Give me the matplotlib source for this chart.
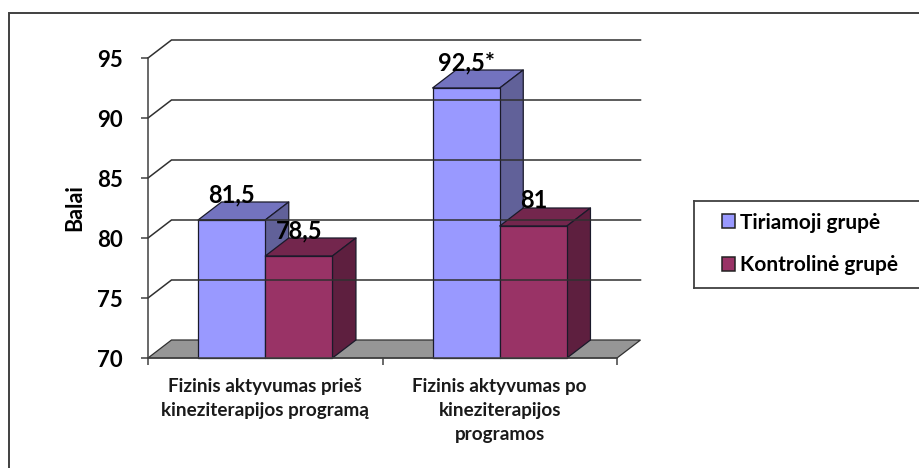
"""Fizinis aktyvumas - 3D stulpelinė diagrama (Excel stilius)"""
import matplotlib
matplotlib.use("Agg")
import matplotlib.pyplot as plt
from matplotlib.lines import Line2D
from matplotlib.patches import Patch, Polygon, Rectangle

plt.rcParams.update({
    "font.family": ["Lato", "DejaVu Sans"],
    "font.weight": "bold",
    "axes.labelweight": "bold",
})

# ── duomenys ─────────────────────────────────────────────
categories = ["Fizinis aktyvumas prieš\nkineziterapijos programą",
              "Fizinis aktyvumas po\nkineziterapijos\nprogramos"]
series_names = ["Tiriamoji grupė", "Kontrolinė grupė"]
tiriamoji = [81.5, 92.5]
kontroline = [78.5, 81]
labels_tiriamoji = ["81,5", "92,5*"]
labels_kontroline = ["78,5", "81"]
y_ticks = [70, 75, 80, 85, 90, 95]

# ── spalvos: priekis, viršus, šonas ──────────────────────
COL_A = ("#9999FF", "#7373BF", "#616199")
COL_B = ("#993366", "#73264D", "#5E1F3F")
FLOOR = "#969696"
LINE = "#404040"

W, H = 919, 468
fig = plt.figure(figsize=(W / 100, H / 100), dpi=100)
fig.patch.set_facecolor("white")

# rėmelis: tik kairė ir viršus, kiti kraštai už paveikslo ribų
fig.add_artist(Line2D([8.5 / W, 8.5 / W, 1], [0, 1 - 12.5 / H, 1 - 12.5 / H],
                      transform=fig.transFigure, color=LINE, linewidth=1.4,
                      solid_joinstyle="miter"))

ax = fig.add_axes([148 / W, (H - 358) / H, 469 / W, 300 / H])
ax.set_xlim(0, 2)
ax.set_ylim(70, 95)
ax.patch.set_visible(False)
for s in ["top", "right"]:
    ax.spines[s].set_visible(False)
for s in ["left", "bottom"]:
    ax.spines[s].set_color(LINE)
    ax.spines[s].set_linewidth(1.1)

DX = 23.5 / 234.5   # gylis x ašyje
DY = 1.5            # gylis y ašyje
BAR_W = 67.2 / 234.5


def draw_bar(x, val, cols):
    front, top, side = cols
    kw = dict(edgecolor="#1a1a2a", linewidth=0.9, clip_on=False, joinstyle="round")
    ax.add_patch(Polygon([(x, val), (x + BAR_W, val), (x + BAR_W + DX, val + DY), (x + DX, val + DY)],
                         facecolor=top, **kw))
    ax.add_patch(Polygon([(x + BAR_W, 70), (x + BAR_W + DX, 70 + DY), (x + BAR_W + DX, val + DY), (x + BAR_W, val)],
                         facecolor=side, **kw))
    ax.add_patch(Rectangle((x, 70), BAR_W, val - 70, facecolor=front, **kw))


# grindys
ax.add_patch(Polygon([(0, 70), (DX, 70 + DY), (2 + DX, 70 + DY), (2, 70)],
                     facecolor=FLOOR, edgecolor="#303030", linewidth=0.9, clip_on=False))
# tinklelis ant sienos
for v in y_ticks[1:]:
    ax.plot([0, DX, 2 + DX], [v, v + DY, v + DY], color="#303030", linewidth=1.1,
            clip_on=False, solid_joinstyle="miter")

centers = [0.5, 1.5]
for c, a, b in zip(centers, tiriamoji, kontroline):
    draw_bar(c - BAR_W, a, COL_A)
    draw_bar(c, b, COL_B)

for c, a, b, la, lb in zip(centers, tiriamoji, kontroline, labels_tiriamoji, labels_kontroline):
    ax.text(c - BAR_W / 2, a + 2.1, la, ha="center", va="center", fontsize=17, fontweight="bold",
            color="black", clip_on=False)
    ax.text(c + BAR_W / 2, b + 2.1, lb, ha="center", va="center", fontsize=17, fontweight="bold",
            color="black", clip_on=False)

ax.set_yticks(y_ticks)
ax.set_yticklabels([str(v) for v in y_ticks], fontsize=16, fontweight="bold", color="black")
ax.tick_params(axis="y", length=5, width=1.1, color=LINE, pad=13)
ax.set_xticks([0, 1, 2])
ax.set_xticklabels(["", "", ""])
ax.tick_params(axis="x", length=5, width=1.1, color=LINE)
for c, lab in zip(centers, categories):
    ax.annotate(lab, xy=(c, 70), xytext=(0, -20), textcoords="offset pixels", ha="center", va="top",
                fontsize=13.6, fontweight="bold", color="#1a1a1a", linespacing=1.5, annotation_clip=False)

ax.set_ylabel("Balai", fontsize=15.5, fontweight="bold", color="black")
ax.yaxis.set_label_coords((85 - 148) / 469, (358 - 208) / 300)

# legenda
handles = [Patch(facecolor=COL_A[0], edgecolor="#222222", linewidth=1.1),
           Patch(facecolor=COL_B[0], edgecolor="#222222", linewidth=1.1)]
leg_ax = fig.add_axes([693.5 / W, (H - 287.5) / H, (W - 693.5) / W, 87 / H])
leg_ax.set_xticks([])
leg_ax.set_yticks([])
leg_ax.spines["right"].set_visible(False)
for s in leg_ax.spines.values():
    s.set_color(LINE)
    s.set_linewidth(1.3)
leg_ax.legend(handles, series_names, loc="center left", bbox_to_anchor=(0.043, 0.5), frameon=False,
              handlelength=0.63, handleheight=0.63, handletextpad=0.25, labelspacing=1.1,
              prop={"size": 15, "weight": "bold"})

fig.savefig("out.png", dpi=100)
plt.close(fig)
